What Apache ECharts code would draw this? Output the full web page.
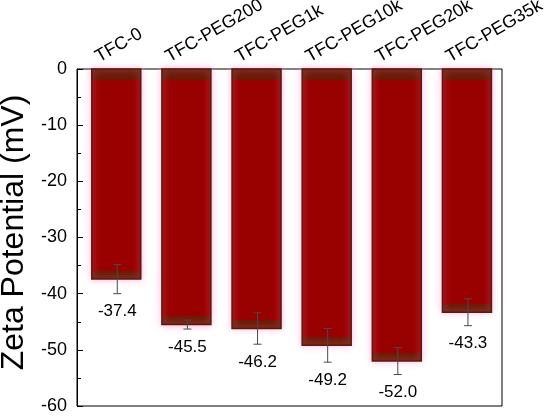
<!DOCTYPE html>
<html>
<head>
<meta charset="utf-8">
<script src="https://cdn.jsdelivr.net/npm/echarts@6/dist/echarts.min.js"></script>
<style>
  html, body { margin: 0; padding: 0; background: #fff; }
  #main { width: 550px; height: 417px; }
</style>
</head>
<body>
<div id="main"></div>
<script>
// membranes along x
const categories = ['TFC-0', 'TFC-PEG200', 'TFC-PEG1k', 'TFC-PEG10k', 'TFC-PEG20k', 'TFC-PEG35k'];
// zeta potential (mV) and error bars
const zeta = [-37.4, -45.5, -46.2, -49.2, -52.0, -43.3];
const zetaErr = [2.6, 0.8, 2.8, 3.0, 2.4, 2.4];
const valueLabels = ['-37.4', '-45.5', '-46.2', '-49.2', '-52.0', '-43.3'];

const FONT = 'Liberation Sans';
const BAR = '#990000';
const DARK = '#6a1a04';

// darker band on top and at the end of each bar
function barFill(v) {
  const a = Math.abs(v);
  const t = 2 / a, b = 1 - 1.6 / a;
  return new echarts.graphic.LinearGradient(0, 0, 0, 1, [
    { offset: 0, color: DARK }, { offset: t, color: DARK },
    { offset: t, color: BAR }, { offset: b, color: BAR },
    { offset: b, color: DARK }, { offset: 1, color: DARK }
  ]);
}

const myChart = echarts.init(document.getElementById('main'));
const option = {
  animation: false,
  grid: {
    left: 77, right: 48, top: 69, bottom: 11,
    outerBoundsMode: 'none',
    containLabel: false,
    show: true, borderColor: '#000', borderWidth: 1
  },
  xAxis: {
    type: 'value',
    min: -0.56, max: 5.5,
    show: false
  },
  yAxis: {
    type: 'value',
    min: -60, max: 0, interval: 10,
    name: 'Zeta Potential (mV)',
    nameLocation: 'middle',
    nameGap: 43,
    nameTextStyle: { fontFamily: FONT, fontSize: 32, color: '#000', padding: [0, 0, 0, 10] },
    axisLine: { show: true, onZero: false, lineStyle: { color: '#000', width: 1 } },
    axisTick: { show: true, inside: true, length: 6, lineStyle: { color: '#000' } },
    minorTick: { show: true, splitNumber: 2, length: 4, lineStyle: { color: '#000' } },
    axisLabel: { fontFamily: FONT, fontSize: 18, color: '#000', margin: 10 },
    splitLine: { show: false }
  },
  series: [
    {
      // bars
      type: 'custom',
      clip: false,
      z: 2,
      data: zeta.map((v, i) => [i, v]),
      encode: { x: 0, y: 1 },
      renderItem: function (params, api) {
        const i = api.value(0), v = api.value(1);
        const p0 = api.coord([i, 0]);
        const p1 = api.coord([i, v]);
        const w = 49;
        return {
          type: 'rect',
          shape: { x: p0[0] - w / 2, y: p0[1], width: w, height: p1[1] - p0[1] },
          style: {
            fill: barFill(v),
            stroke: '#5a1a06',
            lineWidth: 1.5,
            shadowColor: 'rgba(255,150,225,0.7)',
            shadowBlur: 7
          }
        };
      }
    },
    {
      // error bars, value labels and category labels
      type: 'custom',
      clip: false,
      z: 5,
      data: zeta.map((v, i) => [i, v, zetaErr[i]]),
      encode: { x: 0, y: 1 },
      renderItem: function (params, api) {
        const i = api.value(0), v = api.value(1), e = api.value(2);
        const hi = api.coord([i, v + e]);
        const lo = api.coord([i, v - e]);
        const top = api.coord([i, 0]);
        const x = hi[0] + 1;
        const ls = { stroke: '#4a4a4a', lineWidth: 1 };
        return {
          type: 'group',
          children: [
            { type: 'line', shape: { x1: x, y1: hi[1], x2: x, y2: lo[1] }, style: ls },
            { type: 'line', shape: { x1: x - 4, y1: hi[1], x2: x + 4, y2: hi[1] }, style: ls },
            { type: 'line', shape: { x1: x - 4, y1: lo[1], x2: x + 4, y2: lo[1] }, style: ls },
            {
              type: 'text', x: x, y: lo[1] + 18,
              style: { text: valueLabels[i], align: 'center', verticalAlign: 'middle',
                       fontFamily: FONT, fontSize: 17, fill: '#000' }
            },
            {
              type: 'text', x: top[0] - 15, y: top[1] - 3,
              rotation: Math.PI / 6,
              style: { text: categories[i], align: 'left', verticalAlign: 'bottom',
                       fontFamily: FONT, fontSize: 18, fill: '#000' }
            }
          ]
        };
      }
    }
  ]
};
myChart.setOption(option);
</script>
</body>
</html>
